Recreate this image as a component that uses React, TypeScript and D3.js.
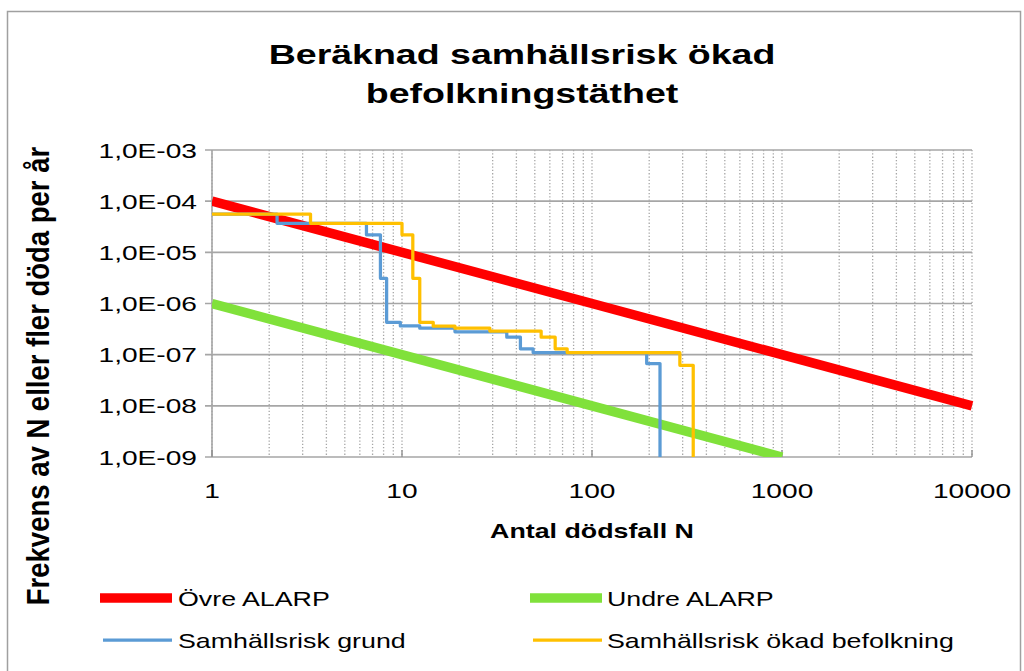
import * as d3 from "d3";

// FN-kurva: beräknad samhällsrisk, ökad befolkningstäthet
const xTicks = [1, 10, 100, 1000, 10000];
const xTickLabels = ["1", "10", "100", "1000", "10000"];
const yTicks = [1e-3, 1e-4, 1e-5, 1e-6, 1e-7, 1e-8, 1e-9];
const yTickLabels = ["1,0E-03", "1,0E-04", "1,0E-05", "1,0E-06", "1,0E-07", "1,0E-08", "1,0E-09"];

const upperN = [1, 10000];
const upperF = [1e-4, 1e-8];
const lowerN = [1, 1000];
const lowerF = [1e-6, 1e-9];

const grundN = [1, 2.2, 2.2, 6.5, 6.5, 7.7, 7.7, 8.3, 8.3, 9.8, 9.8, 12.4, 12.4, 19, 19, 35.6, 35.6, 42, 42, 49, 49, 194, 194, 228, 228];
const grundF = [5.6e-5, 5.6e-5, 3.7e-5, 3.7e-5, 2.2e-5, 2.2e-5, 3.1e-6, 3.1e-6, 4.3e-7, 4.3e-7, 3.65e-7, 3.65e-7, 3.3e-7, 3.3e-7, 2.8e-7, 2.8e-7, 2.2e-7, 2.2e-7, 1.3e-7, 1.3e-7, 1.1e-7, 1.1e-7, 6.7e-8, 6.7e-8, 1e-9];

const okadN = [1, 3.3, 3.3, 10, 10, 11.4, 11.4, 12.4, 12.4, 14.6, 14.6, 19, 19, 29, 29, 54, 54, 64, 64, 74, 74, 290, 290, 341, 341];
const okadF = [5.6e-5, 5.6e-5, 3.7e-5, 3.7e-5, 2.2e-5, 2.2e-5, 3.1e-6, 3.1e-6, 4.3e-7, 4.3e-7, 3.6e-7, 3.6e-7, 3.3e-7, 3.3e-7, 2.9e-7, 2.9e-7, 2.2e-7, 2.2e-7, 1.3e-7, 1.3e-7, 1.1e-7, 1.1e-7, 6.2e-8, 6.2e-8, 1e-9];

const series = [
  { name: "Övre ALARP", n: upperN, f: upperF, color: "#ff0000", width: 9.5 },
  { name: "Undre ALARP", n: lowerN, f: lowerF, color: "#80e13b", width: 9.5 },
  { name: "Samhällsrisk grund", n: grundN, f: grundF, color: "#5b9bd5", width: 3.25 },
  { name: "Samhällsrisk ökad befolkning", n: okadN, f: okadF, color: "#ffc000", width: 3.25 },
];

const W = 1024;
const H = 671;
const K = 1.34; // horizontal stretch of the text in the picture
const FONT = "'Liberation Sans', Arial, sans-serif";

function SText(props: { x: number; y: number; size: number; anchor?: string; bold?: boolean; children: any }) {
  return (
    <text
      transform={`translate(${props.x},${props.y}) scale(${K},1)`}
      textAnchor={props.anchor || "start"}
      fontSize={props.size}
      fontWeight={props.bold ? 700 : 400}
      fill="#000"
    >
      {props.children}
    </text>
  );
}

export default function App() {
  const x = d3.scaleLog().domain([1, 10000]).range([212, 972]);
  const y = d3.scaleLog().domain([1e-9, 1e-3]).range([457, 150]);
  const [x0, x1] = x.range();
  const [y0, y1] = y.range();

  const line = d3
    .line<[number, number]>()
    .x((d) => x(d[0]))
    .y((d) => y(d[1]));

  const grid = x.ticks();

  const legend = [
    { s: series[0], lx: 100, ly: 598 },
    { s: series[1], lx: 530, ly: 598 },
    { s: series[2], lx: 103, ly: 640 },
    { s: series[3], lx: 533, ly: 640 },
  ];

  return (
    <svg width={W} height={H} style={{ position: "absolute", left: 0, top: 0, background: "#fff" }} fontFamily={FONT}>
      <defs>
        <clipPath id="plot">
          <rect x={x0} y={y1 - 6} width={x1 - x0 + 2} height={y0 - y1 + 6} />
        </clipPath>
      </defs>
      <rect x={7.5} y={11.5} width={1013} height={680} fill="#fff" stroke="#a0a0a0" strokeWidth={1.5} />

      <SText x={522} y={64} size={28} anchor="middle" bold>Beräknad samhällsrisk ökad</SText>
      <SText x={522} y={102.5} size={28} anchor="middle" bold>befolkningstäthet</SText>

      {/* vertical dotted gridlines */}
      {grid.map((g, i) => (
        <line key={"v" + i} x1={x(g)} x2={x(g)} y1={y1} y2={y0} stroke="#a6a6a6" strokeWidth={1.3} strokeDasharray="1.3 2" />
      ))}
      {/* horizontal major gridlines */}
      {yTicks.map((t, i) => (
        <line key={"h" + i} x1={x0 - 7} x2={x1} y1={y(t)} y2={y(t)} stroke="#a6a6a6" strokeWidth={1.6} />
      ))}
      <line x1={x0} x2={x0} y1={y1} y2={y0} stroke="#a6a6a6" strokeWidth={1.6} />
      {xTicks.map((t, i) => (
        <line key={"xt" + i} x1={x(t)} x2={x(t)} y1={y0 - 7} y2={y0} stroke="#8c8c8c" strokeWidth={1.3} />
      ))}

      <g clipPath="url(#plot)" fill="none" strokeLinejoin="round">
        {series.map((s, i) => (
          <path
            key={i}
            d={line(s.n.map((n, j) => [n, s.f[j]] as [number, number])) || ""}
            stroke={s.color}
            strokeWidth={s.width}
          />
        ))}
      </g>

      {yTicks.map((t, i) => (
        <SText key={"yl" + i} x={197} y={y(t) + 7.5} size={21} anchor="end">{yTickLabels[i]}</SText>
      ))}
      {xTicks.map((t, i) => (
        <SText key={"xl" + i} x={x(t)} y={498} size={21} anchor="middle">{xTickLabels[i]}</SText>
      ))}

      <SText x={592} y={538} size={20} anchor="middle" bold>Antal dödsfall N</SText>
      <text
        transform={`translate(49,376) scale(1.12,1) rotate(-90)`}
        textAnchor="middle"
        fontSize={27.5}
        fontWeight={700}
        fill="#000"
      >
        Frekvens av N eller fler döda per år
      </text>

      {legend.map((l, i) => (
        <g key={"lg" + i}>
          <line x1={l.lx} x2={172 + (l.lx > 300 ? 430 : 0)} y1={l.ly} y2={l.ly} stroke={l.s.color} strokeWidth={l.s.width} />
          <SText x={l.lx > 300 ? 607 : 178} y={l.ly + 8} size={20}>{l.s.name}</SText>
        </g>
      ))}
    </svg>
  );
}
